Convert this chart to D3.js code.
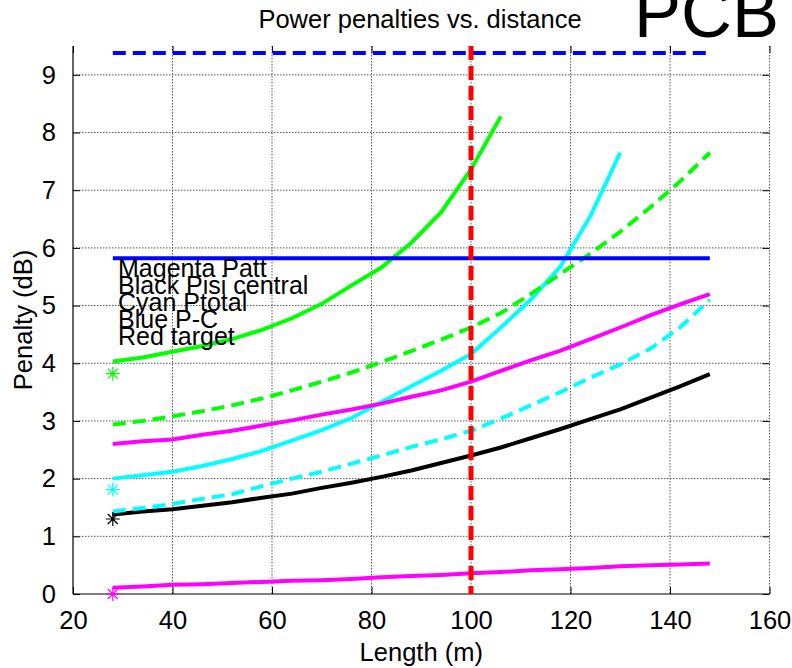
<!DOCTYPE html>
<html>
<head>
<meta charset="utf-8">
<script src="https://cdn.jsdelivr.net/npm/d3@7"></script>
<style>
  html, body { margin: 0; padding: 0; background: #fff; }
  svg { display: block; font-family: "Liberation Sans", Arial, sans-serif; }
</style>
</head>
<body>
<svg id="chart" width="792" height="668"></svg>
<script>
// Cable length samples (m)
const lengths = [28, 34, 40, 46, 52, 58, 64, 70, 76, 82, 88, 94, 100, 106, 112, 118, 124, 130, 136, 142, 148];

// Penalty curves (dB)
const greenSolid  = [4.03, 4.10, 4.20, 4.30, 4.42, 4.58, 4.78, 5.03, 5.35, 5.66, 6.09, 6.62, 7.36, 8.28];
const greenDashed = [2.94, 3.00, 3.08, 3.17, 3.27, 3.39, 3.53, 3.68, 3.84, 4.02, 4.21, 4.41, 4.62, 4.87, 5.20, 5.55, 5.90, 6.28, 6.70, 7.15, 7.65];
const cyanSolid   = [2.00, 2.06, 2.12, 2.22, 2.34, 2.48, 2.66, 2.84, 3.05, 3.33, 3.60, 3.87, 4.16, 4.62, 5.10, 5.68, 6.55, 7.65];
const magentaUpper= [2.60, 2.65, 2.68, 2.76, 2.83, 2.92, 3.01, 3.11, 3.20, 3.30, 3.42, 3.53, 3.68, 3.87, 4.05, 4.22, 4.42, 4.62, 4.83, 5.02, 5.20];
const cyanDashed  = [1.43, 1.49, 1.56, 1.65, 1.73, 1.87, 2.00, 2.12, 2.26, 2.40, 2.55, 2.68, 2.83, 3.04, 3.27, 3.50, 3.75, 3.98, 4.25, 4.62, 5.10];
const blackSolid  = [1.38, 1.43, 1.47, 1.53, 1.59, 1.67, 1.74, 1.84, 1.93, 2.03, 2.14, 2.27, 2.40, 2.54, 2.70, 2.86, 3.03, 3.20, 3.40, 3.60, 3.81];
const magentaLower= [0.11, 0.13, 0.16, 0.17, 0.19, 0.21, 0.23, 0.24, 0.26, 0.29, 0.31, 0.33, 0.36, 0.38, 0.41, 0.43, 0.45, 0.48, 0.50, 0.51, 0.53];

// Reference levels
const blueDashedLevel = 9.38;
const blueSolidLevel = 5.82;
const targetLength = 100;

// Single measured points at the shortest length
const markerLength = 28;
const markerValues = [3.82, 1.81, 1.30, 0.0];
const markerColors = ["#00ff00", "#00ffff", "#000000", "#ff00ff"];

// Axis ticks
const xTicks = [20, 40, 60, 80, 100, 120, 140, 160];
const yTicks = [0, 1, 2, 3, 4, 5, 6, 7, 8, 9];

// Text
const titleText = "Power penalties vs. distance";
const cornerText = "PCB";
const xLabel = "Length (m)";
const yLabel = "Penalty (dB)";
const noteLines = ["Magenta Patt", "Black Pisi central", "Cyan Ptotal", "Blue P-C", "Red target"];

const svg = d3.select("#chart");
const plotLeft = 73, plotRight = 769.5, plotTop = 46, plotBottom = 594;

const x = d3.scaleLinear().domain([20, 160]).range([plotLeft, plotRight]);
const y = d3.scaleLinear().domain([0, 9.5]).range([plotBottom, plotTop]);

// Grid
const grid = svg.append("g").attr("stroke", "#444").attr("stroke-width", 0.9).attr("stroke-dasharray", "1.5,1.5");
grid.selectAll("line.v").data(xTicks.filter(d => d > 20)).join("line").attr("class", "v")
  .attr("x1", d => x(d)).attr("x2", d => x(d)).attr("y1", plotTop).attr("y2", plotBottom);
grid.selectAll("line.h").data(yTicks.filter(d => d > 0)).join("line").attr("class", "h")
  .attr("x1", plotLeft).attr("x2", plotRight).attr("y1", d => y(d)).attr("y2", d => y(d));

// Axes with inward ticks
const axisStyle = g => {
  g.select(".domain").remove();
  g.selectAll(".tick text").attr("fill", "#000").style("font-size", "25.5px").style("font-family", "Liberation Sans, Arial, sans-serif");
  g.selectAll(".tick line").attr("stroke", "#000").attr("stroke-width", 1);
};
svg.append("g").attr("transform", `translate(0,${plotBottom})`)
  .call(d3.axisBottom(x).tickValues(xTicks).tickSize(-7).tickPadding(17).tickFormat(d3.format("d")))
  .call(axisStyle)
  .call(g => g.selectAll(".tick text").attr("dy", "0.71em"));
svg.append("g").attr("transform", `translate(0,${plotTop})`)
  .call(d3.axisTop(x).tickValues(xTicks).tickSize(-7).tickFormat(""))
  .call(axisStyle);
svg.append("g").attr("transform", `translate(${plotLeft},0)`)
  .call(d3.axisLeft(y).tickValues(yTicks).tickSize(-7).tickPadding(17).tickFormat(d3.format("d")))
  .call(axisStyle);
svg.append("g").attr("transform", `translate(${plotRight},0)`)
  .call(d3.axisRight(y).tickValues(yTicks).tickSize(-7).tickFormat(""))
  .call(axisStyle);

// Solid left and bottom frame
svg.append("line").attr("x1", plotLeft).attr("x2", plotLeft).attr("y1", plotTop).attr("y2", plotBottom).attr("stroke", "#000").attr("stroke-width", 1.2);
svg.append("line").attr("x1", plotLeft).attr("x2", plotRight).attr("y1", plotBottom).attr("y2", plotBottom).attr("stroke", "#000").attr("stroke-width", 1.2);

// Curves
const line = d3.line().x((d, i) => x(lengths[i])).y(d => y(d));
const curves = [
  { data: magentaLower, color: "#ff00ff", dash: null },
  { data: blackSolid,   color: "#000000", dash: null },
  { data: cyanDashed,   color: "#00ffff", dash: "13,7" },
  { data: cyanSolid,    color: "#00ffff", dash: null },
  { data: magentaUpper, color: "#ff00ff", dash: null },
  { data: greenDashed,  color: "#00ff00", dash: "13,7" },
  { data: greenSolid,   color: "#00ff00", dash: null }
];
svg.append("g").selectAll("path").data(curves).join("path")
  .attr("d", c => line(c.data))
  .attr("fill", "none")
  .attr("stroke", c => c.color)
  .attr("stroke-width", 4)
  .attr("stroke-dasharray", c => c.dash);

// Horizontal reference levels
const xFirst = lengths[0], xLast = lengths[lengths.length - 1];
svg.append("line")
  .attr("x1", x(xFirst)).attr("x2", x(xLast))
  .attr("y1", y(blueSolidLevel)).attr("y2", y(blueSolidLevel))
  .attr("stroke", "#0000ff").attr("stroke-width", 4);
svg.append("line")
  .attr("x1", x(xFirst)).attr("x2", x(xLast))
  .attr("y1", y(blueDashedLevel)).attr("y2", y(blueDashedLevel))
  .attr("stroke", "#0000ff").attr("stroke-width", 4).attr("stroke-dasharray", "13,7");

// Asterisk markers
const star = svg.append("g");
markerValues.forEach((v, i) => {
  const cx = x(markerLength), cy = y(v), r = 7, rd = 5;
  star.append("path")
    .attr("d", `M${cx - r},${cy}H${cx + r}M${cx},${cy - r}V${cy + r}` +
               `M${cx - rd},${cy - rd}L${cx + rd},${cy + rd}M${cx - rd},${cy + rd}L${cx + rd},${cy - rd}`)
    .attr("stroke", markerColors[i]).attr("stroke-width", 1.2).attr("fill", "none");
});

// Colour key written as plain overlapping text
const note = svg.append("g").attr("transform", "translate(118,277)");
note.selectAll("text").data(noteLines).join("text")
  .attr("x", 0).attr("y", (d, i) => i * 16.9)
  .attr("font-size", 25).attr("fill", "#000")
  .text(d => d);

// Target length
svg.append("line")
  .attr("x1", x(targetLength)).attr("x2", x(targetLength))
  .attr("y1", y(9.5)).attr("y2", y(0))
  .attr("stroke", "#ff0000").attr("stroke-width", 5).attr("stroke-dasharray", "14,6");

// Titles
svg.append("text").attr("x", 420).attr("y", 28).attr("text-anchor", "middle")
  .attr("font-size", 25.5).text(titleText);
svg.append("text").attr("x", 634).attr("y", 37)
  .attr("font-size", 70.5).text(cornerText);
svg.append("text").attr("x", (plotLeft + plotRight) / 2).attr("y", 661).attr("text-anchor", "middle")
  .attr("font-size", 25.5).text(xLabel);
svg.append("text").attr("transform", `translate(31.5,${(plotTop + plotBottom) / 2}) rotate(-90)`)
  .attr("text-anchor", "middle").attr("font-size", 25.5).text(yLabel);
</script>
</body>
</html>
